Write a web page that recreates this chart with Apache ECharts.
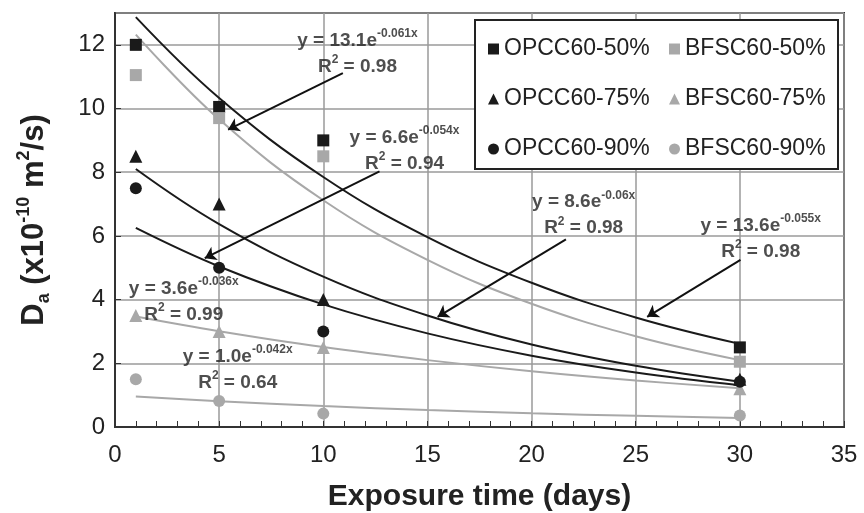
<!DOCTYPE html>
<html>
<head>
<meta charset="utf-8">
<script src="https://cdn.jsdelivr.net/npm/echarts@6/dist/echarts.min.js"></script>
<style>html,body{margin:0;padding:0;background:#fff}#c{width:864px;height:513px}</style>
</head>
<body>
<div id="c"></div>
<script>
// Exposure times (days)
const days = [1, 5, 10, 30];
// Measured Da (x10^-10 m2/s)
const opcc50 = [12.0, 10.05, 9.0, 2.5];
const bfsc50 = [11.05, 9.7, 8.5, 2.05];
const opcc75 = [8.5, 7.0, 4.0, 1.5];
const bfsc75 = [3.5, 3.0, 2.5, 1.2];
const opcc90 = [7.5, 5.0, 3.0, 1.42];
const bfsc90 = [1.5, 0.82, 0.42, 0.36];
// Trend curves (x positions and curve values)
const trendX = [1, 5, 10, 15, 20, 25, 30];
const trendOpcc50 = [12.87, 10.33, 7.85, 5.96, 4.53, 3.44, 2.61];
const trendBfsc50 = [12.32, 9.66, 7.12, 5.25, 3.87, 2.85, 2.10];
const trendOpcc75 = [8.10, 6.37, 4.72, 3.50, 2.59, 1.92, 1.42];
const trendOpcc90 = [6.25, 5.04, 3.85, 2.94, 2.24, 1.71, 1.31];
const trendBfsc75 = [3.47, 3.01, 2.51, 2.10, 1.75, 1.46, 1.22];
const trendBfsc90 = [0.96, 0.81, 0.66, 0.53, 0.43, 0.35, 0.28];
// Equation labels
const eqMain = ['y = 13.1e', 'y = 6.6e', 'y = 3.6e', 'y = 1.0e', 'y = 8.6e', 'y = 13.6e'];
const eqExp = ['-0.061x', '-0.054x', '-0.036x', '-0.042x', '-0.06x', '-0.055x'];
const eqR2 = ['0.98', '0.94', '0.99', '0.64', '0.98', '0.98'];
// Axis ticks
const xTicks = [0, 5, 10, 15, 20, 25, 30, 35];
const yTicks = [0, 2, 4, 6, 8, 10, 12];

const BLACK = '#1a1a1a', GRAY = '#a8a8a8';
const FONT = 'Liberation Sans, Arial, sans-serif';
const zip = (xs, ys) => xs.map((x, i) => [x, ys[i]]);

function pts(name, ys, symbol, color) {
  return { name, type: 'scatter', data: zip(days, ys), symbol, symbolSize: symbol === 'triangle' ? 13 : 12,
    itemStyle: { color, opacity: 1 }, z: 5, emphasis: { disabled: true } };
}
function trend(ys, color) {
  return { type: 'line', data: zip(trendX, ys), smooth: 0.4, showSymbol: false, symbol: 'none',
    lineStyle: { color, width: 2 }, z: 4, silent: true, emphasis: { disabled: true } };
}

const annPos = [[11.64, 11.71], [13.9, 8.68], [3.3, 3.92], [5.89, 1.81], [22.5, 6.65], [31.0, 5.92]];
const annData = annPos.map((p, i) => ({ value: p, idx: i }));
const arrows = [
  [[10.94, 11.11], [5.43, 9.34]],
  [[12.70, 8.03], [4.31, 5.30]],
  [[21.65, 5.89], [15.49, 3.46]],
  [[30.03, 5.25], [25.55, 3.46]]
];

const option = {
  animation: false,
  textStyle: { fontFamily: FONT },
  grid: { left: 115, right: 20, top: 13, bottom: 86, show: true, borderColor: '#333', borderWidth: 2,
    containLabel: false, outerBoundsMode: 'none' },
  xAxis: {
    type: 'value', min: xTicks[0], max: xTicks[xTicks.length - 1], interval: 5,
    name: 'Exposure time (days)', nameLocation: 'middle', nameGap: 55,
    nameTextStyle: { fontSize: 30, fontWeight: 'bold', color: '#222', fontFamily: FONT },
    axisLine: { lineStyle: { color: '#333', width: 2 } },
    axisTick: { inside: true, length: 6, lineStyle: { color: '#333' } },
    minorTick: { show: true, splitNumber: 5, length: 6, lineStyle: { color: '#333', width: 1 } },
    axisLabel: { fontSize: 24, color: '#222', margin: 16, fontFamily: FONT },
    splitLine: { show: true, lineStyle: { color: '#9a9a9a', width: 1.5 } }
  },
  yAxis: {
    type: 'value', min: 0, max: 13, interval: 2,
    name: '{b|D}{sub|a}{b| (x10}{sup|-10}{b| m}{sup|2}{b|/s)}',
    nameLocation: 'middle', nameGap: 62, nameRotate: 90,
    nameTextStyle: {
      color: '#222', fontFamily: FONT,
      rich: {
        b: { fontSize: 31, fontWeight: 'bold', color: '#222', lineHeight: 38, fontFamily: FONT },
        sub: { fontSize: 18, fontWeight: 'bold', color: '#222', lineHeight: 18, verticalAlign: 'bottom', fontFamily: FONT },
        sup: { fontSize: 18, fontWeight: 'bold', color: '#222', lineHeight: 18, verticalAlign: 'top', fontFamily: FONT }
      }
    },
    axisLine: { lineStyle: { color: '#333', width: 2 } },
    axisTick: { inside: true, length: 6, lineStyle: { color: '#333' } },
    axisLabel: { fontSize: 24, color: '#222', margin: 10, fontFamily: FONT, showMaxLabel: false,
      formatter: v => (yTicks.indexOf(v) >= 0 ? String(v) : '') },
    splitLine: { show: true, lineStyle: { color: '#9a9a9a', width: 1.5 } }
  },
  legend: [
    { data: ['OPCC60-50%', 'OPCC60-75%', 'OPCC60-90%'], orient: 'vertical', left: 483, top: 32,
      itemWidth: 11, itemHeight: 11, itemGap: 26, z: 10,
      textStyle: { fontSize: 23, color: '#222', lineHeight: 24, fontFamily: FONT } },
    { data: ['BFSC60-50%', 'BFSC60-75%', 'BFSC60-90%'], orient: 'vertical', left: 664, top: 32,
      itemWidth: 11, itemHeight: 11, itemGap: 26, z: 10,
      textStyle: { fontSize: 23, color: '#222', lineHeight: 24, fontFamily: FONT } }
  ],
  graphic: [{ type: 'rect', left: 474, top: 19, z: 3, shape: { width: 363, height: 149 },
    style: { fill: '#fff', stroke: '#222', lineWidth: 2 } }],
  series: [
    pts('OPCC60-50%', opcc50, 'rect', BLACK),
    pts('BFSC60-50%', bfsc50, 'rect', GRAY),
    pts('OPCC60-75%', opcc75, 'triangle', BLACK),
    pts('BFSC60-75%', bfsc75, 'triangle', GRAY),
    pts('OPCC60-90%', opcc90, 'circle', BLACK),
    pts('BFSC60-90%', bfsc90, 'circle', GRAY),
    trend(trendOpcc50, BLACK),
    trend(trendBfsc50, GRAY),
    trend(trendOpcc75, BLACK),
    trend(trendOpcc90, BLACK),
    trend(trendBfsc75, GRAY),
    trend(trendBfsc90, GRAY),
    {
      type: 'scatter', data: annData, symbolSize: 0, silent: true, z: 6,
      label: {
        show: true, position: 'inside', align: 'center', verticalAlign: 'middle',
        formatter: p => '{t|' + eqMain[p.data.idx] + '}{s|' + eqExp[p.data.idx] + '}\n{t|R}{s|2}{t| = ' + eqR2[p.data.idx] + '}',
        rich: {
          t: { fontSize: 19, fontWeight: 'bold', color: '#222', lineHeight: 26, fontFamily: FONT },
          s: { fontSize: 12, fontWeight: 'bold', color: '#222', lineHeight: 14, verticalAlign: 'top', fontFamily: FONT }
        }
      },
      markLine: {
        silent: true, symbol: ['none', 'arrow'], symbolSize: 11, animation: false,
        label: { show: false }, lineStyle: { color: '#111', width: 2, type: 'solid' },
        emphasis: { disabled: true },
        data: arrows.map(a => [{ coord: a[0] }, { coord: a[1] }])
      }
    }
  ]
};
const chart = echarts.init(document.getElementById('c'), null, { renderer: 'canvas' });
chart.setOption(option);
</script>
</body>
</html>
